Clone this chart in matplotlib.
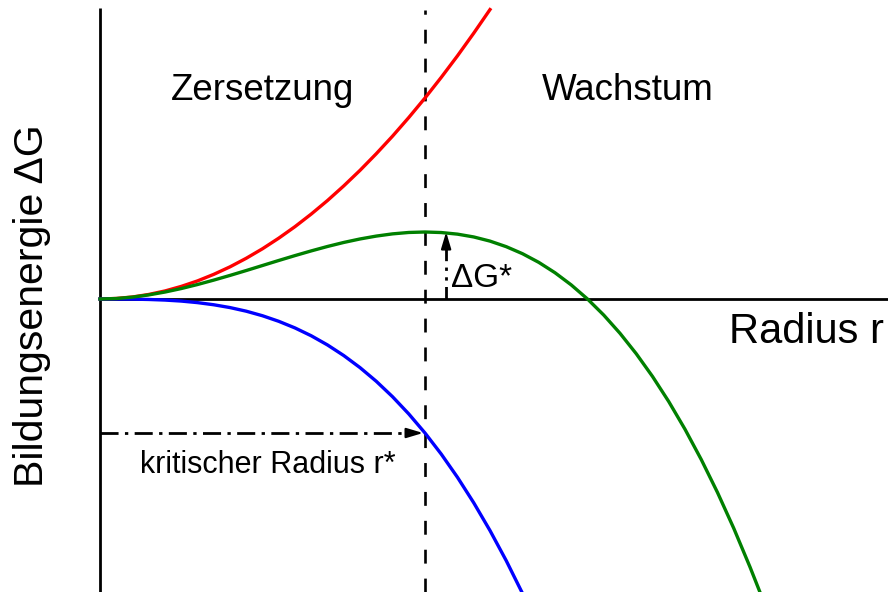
import matplotlib
matplotlib.use("Agg")
import matplotlib.pyplot as plt

plt.rcParams['font.family'] = ['Liberation Sans', 'DejaVu Sans']
plt.rcParams['lines.scale_dashes'] = False

# Radius in units of the critical radius r*, energies in units of the barrier ΔG*
radius = [0.0, 0.05, 0.1, 0.15, 0.2, 0.25, 0.3, 0.35, 0.4, 0.45, 0.5,
          0.55, 0.6, 0.65, 0.7, 0.75, 0.8, 0.85, 0.9, 0.95, 1.0,
          1.05, 1.1, 1.15, 1.2, 1.25, 1.3, 1.35, 1.4, 1.45, 1.5,
          1.55, 1.6, 1.65, 1.7, 1.75, 1.8, 1.85, 1.9, 1.95, 2.0, 2.03]
surface_term = [0.0, 0.008, 0.03, 0.068, 0.12, 0.188, 0.27, 0.368, 0.48,
                0.608, 0.75, 0.908, 1.08, 1.268, 1.47, 1.688, 1.92, 2.168,
                2.43, 2.708, 3.0, 3.308, 3.63, 3.968, 4.32]
volume_term = [0.0, 0.0, -0.002, -0.007, -0.016, -0.031, -0.054, -0.086,
               -0.128, -0.182, -0.25, -0.333, -0.432, -0.549, -0.686, -0.844,
               -1.024, -1.228, -1.458, -1.715, -2.0, -2.315, -2.662, -3.042,
               -3.456, -3.906, -4.394]
total_energy = [0.0, 0.007, 0.028, 0.061, 0.104, 0.156, 0.216, 0.282, 0.352,
                0.425, 0.5, 0.575, 0.648, 0.718, 0.784, 0.844, 0.896, 0.939,
                0.972, 0.993, 1.0, 0.992, 0.968, 0.926, 0.864, 0.781, 0.676,
                0.547, 0.392, 0.21, 0.0, -0.24, -0.512, -0.817, -1.156,
                -1.531, -1.944, -2.396, -2.888, -3.422, -4.0, -4.368]
r_crit = 1.0
dG_crit = 1.0
arrow_r = 1.065
blue_at_rcrit = -2.0

fig = plt.figure(figsize=(8.88, 5.92), dpi=100)
ax = fig.add_axes([0, 0, 1, 1])
ax.set_xlim(-100 / 325, 788 / 325)
ax.set_ylim((299 - 592) / 67, 299 / 67)
ax.axis('off')

# axes drawn as plain lines
ax.plot([0, 0], [(299 - 592) / 67, (299 - 8) / 67], color='black', lw=2.0,
        solid_capstyle='butt')
ax.plot([0, 788 / 325], [0, 0], color='black', lw=2.0, solid_capstyle='butt')

# critical radius marker
ax.plot([r_crit, r_crit], [(299 - 592) / 67, (299 - 10) / 67], color='black',
        lw=1.9, linestyle=(0, (10, 10.8)))

lw_curve = 2.4
ax.plot(radius[:len(surface_term)], surface_term, color='#ff0000', lw=lw_curve,
        solid_joinstyle='round')
ax.plot(radius[:len(volume_term)], volume_term, color='#0000ff', lw=lw_curve,
        solid_joinstyle='round')
ax.plot(radius[:len(total_energy)], total_energy, color='#008000', lw=lw_curve,
        solid_joinstyle='round')

dashdot = (0, (13, 4.6, 2.4, 4.6))
head = dict(arrowstyle='-|>,head_length=10,head_width=3.0', color='black',
            lw=1.5, shrinkA=0, shrinkB=0, mutation_scale=1)

# ΔG* arrow
head_len_data_y = 13 / 67
ax.plot([arrow_r, arrow_r], [0, dG_crit - head_len_data_y], color='black',
        lw=2.0, linestyle=(0, (9, 4.6, 2.4, 4.6, 2.4, 4.6)))
ax.annotate('', xy=(arrow_r, dG_crit), xytext=(arrow_r, dG_crit - head_len_data_y),
            arrowprops=head)

# r* arrow
head_len_data_x = 14 / 325
ax.plot([0, r_crit - head_len_data_x - 0.006], [blue_at_rcrit, blue_at_rcrit],
        color='black', lw=2.0, linestyle=dashdot)
ax.annotate('', xy=(r_crit - 0.006, blue_at_rcrit),
            xytext=(r_crit - head_len_data_x - 0.006, blue_at_rcrit),
            arrowprops=head)

def px(x, y):
    return x / 888, 1 - y / 592

ax.text(*px(263, 100), 'Zersetzung', transform=ax.transAxes, fontsize=26.5,
        ha='center', va='baseline')
ax.text(*px(628, 100), 'Wachstum', transform=ax.transAxes, fontsize=26.5,
        ha='center', va='baseline')
ax.text(*px(884, 343), 'Radius r', transform=ax.transAxes, fontsize=30,
        ha='right', va='baseline')
ax.text(*px(43, 306), 'Bildungsenergie ΔG', transform=ax.transAxes,
        fontsize=29.5, ha='center', va='baseline', rotation=90,
        rotation_mode='anchor')
ax.text(*px(451, 287), 'ΔG*', transform=ax.transAxes, fontsize=24,
        ha='left', va='baseline')
ax.text(*px(268, 473), 'kritischer Radius r*', transform=ax.transAxes,
        fontsize=22, ha='center', va='baseline')

fig.savefig('out.png', dpi=100)
